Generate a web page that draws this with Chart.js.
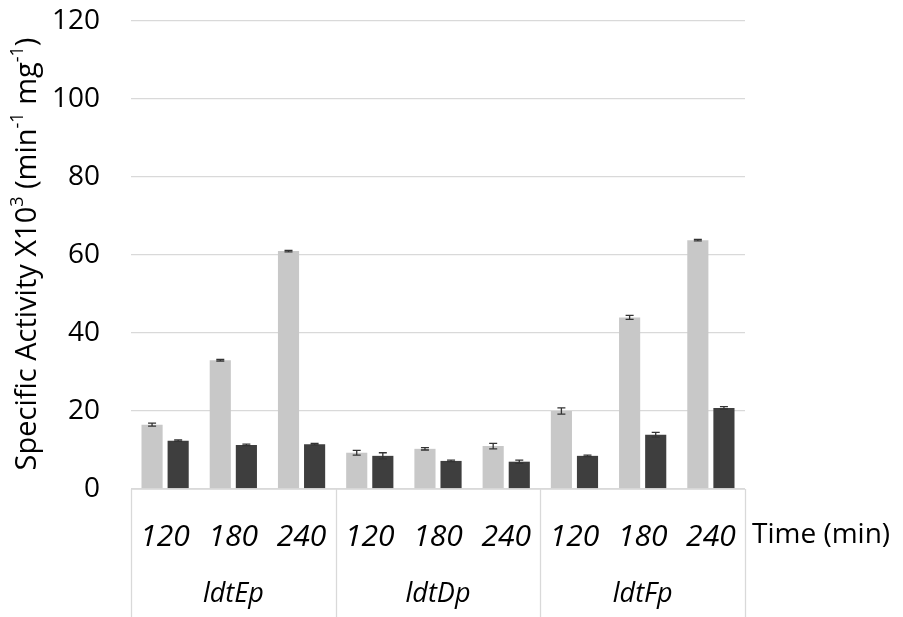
<!DOCTYPE html>
<html>
<head>
<meta charset="utf-8">
<script src="https://cdn.jsdelivr.net/npm/chart.js@4.4.1/dist/chart.umd.min.js"></script>
<style>
html,body{margin:0;padding:0;background:#fff;}
#wrap{width:903px;height:617px;position:relative;}
</style>
</head>
<body>
<div id="wrap"><canvas id="c" width="903" height="617"></canvas></div>
<script>
const times = ["120","180","240","120","180","240","120","180","240"];
const groups = ["ldtEp","ldtDp","ldtFp"];
const lightValues = [16.5, 33.0, 61.0, 9.3, 10.3, 11.0, 20.0, 44.0, 63.8];
const lightErrors = [0.4, 0.2, 0.2, 0.6, 0.3, 0.7, 0.8, 0.5, 0.2];
const darkValues  = [12.4, 11.3, 11.5, 8.5, 7.2, 7.0, 8.5, 13.9, 20.8];
const darkErrors  = [0.2, 0.2, 0.2, 0.8, 0.2, 0.4, 0.2, 0.6, 0.3];
const yTicks = [0, 20, 40, 60, 80, 100, 120];
const xAxisTitle = "Time (min)";

const FONT = "'Open Sans', sans-serif";
const GRID = "#d9d9d9";

const errorBars = {
  id: 'errorBars',
  afterDatasetsDraw(chart) {
    const ctx = chart.ctx, ys = chart.scales.y;
    const errs = [lightErrors, darkErrors];
    ctx.save();
    ctx.strokeStyle = '#333';
    ctx.lineWidth = 1.3;
    chart.data.datasets.forEach((ds, di) => {
      const meta = chart.getDatasetMeta(di);
      meta.data.forEach((bar, i) => {
        const v = ds.data[i], e = errs[di][i];
        const x = bar.x;
        const y1 = ys.getPixelForValue(v + e), y2 = ys.getPixelForValue(v - e);
        ctx.beginPath();
        ctx.moveTo(x, y1); ctx.lineTo(x, y2);
        ctx.moveTo(x - 4, y1); ctx.lineTo(x + 4, y1);
        ctx.moveTo(x - 4, y2); ctx.lineTo(x + 4, y2);
        ctx.stroke();
      });
    });
    ctx.restore();
  }
};

const decorations = {
  id: 'decorations',
  afterDraw(chart) {
    const ctx = chart.ctx, xs = chart.scales.x, ca = chart.chartArea;
    ctx.save();
    ctx.strokeStyle = GRID;
    ctx.lineWidth = 1.3;
    ctx.beginPath();
    ctx.moveTo(ca.left, ca.bottom); ctx.lineTo(ca.right, ca.bottom);
    ctx.stroke();
    const n = times.length, per = n / groups.length;
    const step = (ca.right - ca.left) / n;
    for (let g = 0; g <= groups.length; g++) {
      const x = Math.round(ca.left + g * per * step) + 0.5;
      ctx.beginPath();
      ctx.moveTo(x, ca.bottom); ctx.lineTo(x, chart.height);
      ctx.stroke();
    }
    ctx.fillStyle = '#000';
    ctx.font = "italic 27px " + FONT;
    ctx.textAlign = 'center';
    ctx.textBaseline = 'alphabetic';
    groups.forEach((g, gi) => {
      const cx = (xs.getPixelForValue(gi * per) + xs.getPixelForValue(gi * per + per - 1)) / 2;
      ctx.fillText(g, cx, 602);
    });
    ctx.font = "28px " + FONT;
    ctx.textAlign = 'left';
    ctx.fillText(xAxisTitle, ca.right + 7, 543);
    const parts = [
      ["Specific Activity X10", false], ["3", true], [" (min", false], ["-1", true], [" mg", false], ["-1", true], [")", false]
    ];
    const big = "29px " + FONT, small = "18px " + FONT;
    let total = 0;
    parts.forEach(p => { ctx.font = p[1] ? small : big; total += ctx.measureText(p[0]).width; });
    ctx.translate(28, 254);
    ctx.rotate(-Math.PI / 2);
    ctx.textAlign = 'left';
    ctx.textBaseline = 'middle';
    let x = -total / 2;
    parts.forEach(p => {
      ctx.font = p[1] ? small : big;
      ctx.fillText(p[0], x, p[1] ? -10 : 0);
      x += ctx.measureText(p[0]).width;
    });
    ctx.restore();
  }
};

new Chart(document.getElementById('c'), {
  type: 'bar',
  data: {
    labels: times,
    datasets: [
      { label: 'light', data: lightValues, backgroundColor: '#c8c8c8', categoryPercentage: 0.765, barPercentage: 0.81 },
      { label: 'dark', data: darkValues, backgroundColor: '#3e3e3e', categoryPercentage: 0.765, barPercentage: 0.81 }
    ]
  },
  options: {
    responsive: false,
    animation: false,
    devicePixelRatio: 1,
    layout: { padding: { left: 0, right: 158, top: 21, bottom: 0 } },
    plugins: { legend: { display: false }, tooltip: { enabled: false } },
    scales: {
      x: {
        grid: { display: false, drawTicks: false },
        border: { display: false },
        ticks: { color: '#000', font: { family: FONT, size: 30, style: 'italic' }, padding: 30, maxRotation: 0, autoSkip: false },
        afterFit(s) { s.height = 128; s.paddingLeft = 0; s.paddingRight = 0; }
      },
      y: {
        min: 0, max: 120,
        afterBuildTicks(s) { s.ticks = yTicks.map(v => ({ value: v })); },
        grid: { color: GRID, lineWidth: 1.3, drawTicks: false },
        border: { display: false },
        ticks: { color: '#000', font: { family: FONT, size: 28 }, padding: 31 },
        afterFit(s) { s.width = 131; s.paddingTop = 0; s.paddingBottom = 0; }
      }
    }
  },
  plugins: [errorBars, decorations]
});
</script>
</body>
</html>
